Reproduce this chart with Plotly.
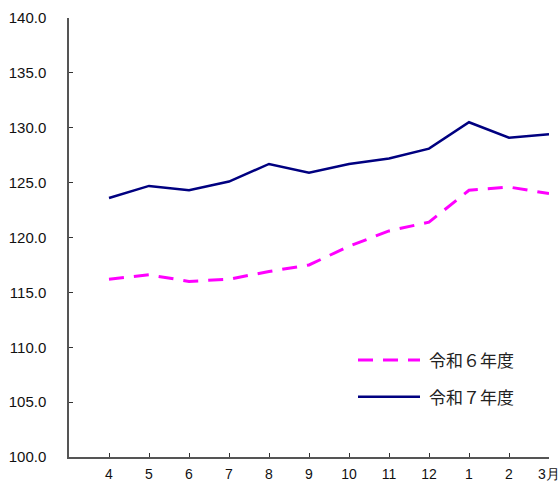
import plotly.graph_objects as go

months = ["4", "5", "6", "7", "8", "9", "10", "11", "12", "1", "2", "3月"]
r6 = [116.2, 116.6, 116.0, 116.2, 116.9, 117.5, 119.2, 120.6, 121.4, 124.3, 124.6, 124.0]
r7 = [123.6, 124.7, 124.3, 125.1, 126.7, 125.9, 126.7, 127.2, 128.1, 130.5, 129.1, 129.4]
y_ticks = [100, 105, 110, 115, 120, 125, 130, 135, 140]
legend_names = ["令和６年度", "令和７年度"]

xi = list(range(len(months)))

fig = go.Figure()
fig.add_trace(go.Scatter(x=xi, y=r6, mode="lines", name=legend_names[0],
                         line=dict(color="#FF00FF", width=3, dash="15px,10px"),
                         showlegend=False))
fig.add_trace(go.Scatter(x=xi, y=r7, mode="lines", name=legend_names[1],
                         line=dict(color="#000080", width=2.5),
                         showlegend=False))

# custom legend
leg = [(legend_names[0], "#FF00FF", "15px,10px", 3, 0.221),
       (legend_names[1], "#000080", "solid", 2.5, 0.137)]
for name, col, dash, w, yy in leg:
    fig.add_shape(type="line", xref="paper", yref="paper",
                  x0=(358 - 69) / 480, x1=(420 - 69) / 480, y0=yy, y1=yy,
                  line=dict(color=col, width=w, dash=dash))
    fig.add_annotation(xref="paper", yref="paper", x=(427 - 69) / 480, y=yy,
                       text=name, showarrow=False, xanchor="left", yanchor="middle",
                       font=dict(size=17, color="#222",
                                 family="Noto Sans CJK JP"))

fig.update_layout(
    width=560, height=482,
    margin=dict(l=69, r=11, t=18, b=25),
    plot_bgcolor="white", paper_bgcolor="white",
    font=dict(family="Liberation Sans, Arial", color="#111"),
    xaxis=dict(range=[-1, 11], tickmode="array", tickvals=xi, ticktext=months,
               automargin=False, ticklabeloverflow="allow", ticklabelstandoff=3,
               showgrid=False, zeroline=False, showline=True, linecolor="#555",
               linewidth=1.5, ticks="inside", ticklen=4, tickcolor="#333",
               tickfont=dict(size=14, family="Liberation Sans, Arial")),
    yaxis=dict(range=[100, 140], tickmode="array", tickvals=y_ticks,
               ticktext=[f"{v:.1f}" for v in y_ticks],
               automargin=False,
               showgrid=False, zeroline=False, showline=True, linecolor="#555",
               linewidth=1.5, ticks="inside", ticklen=4, tickcolor="#333",
               ticklabelstandoff=18,
               tickfont=dict(size=15, family="Liberation Sans, Arial")),
)

fig.write_html("out.html", config={"displayModeBar": False},
               post_script="document.body.style.margin='0';document.body.style.overflow='hidden';")
